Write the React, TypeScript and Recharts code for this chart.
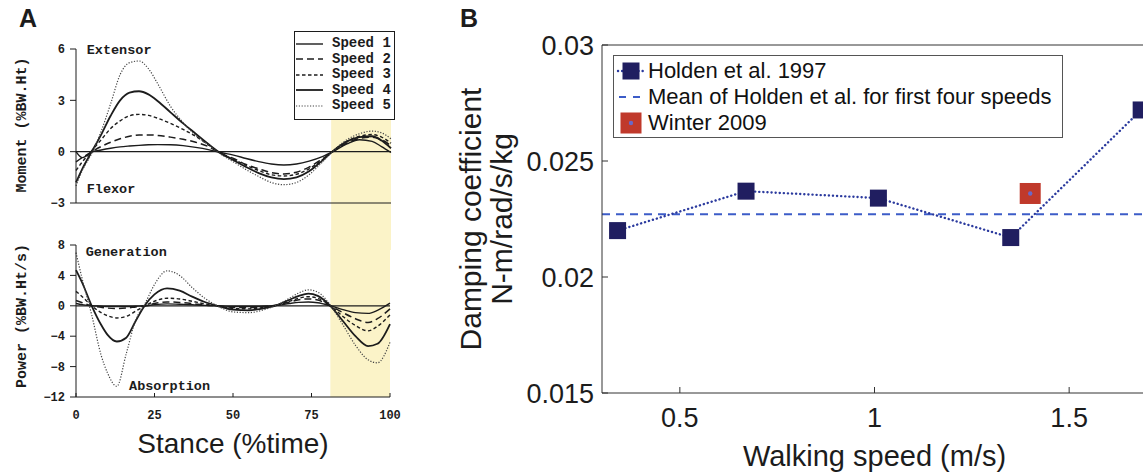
import {
  LineChart, ComposedChart, Line, Scatter, XAxis, YAxis,
  ReferenceLine, ReferenceArea, ReferenceDot, Legend,
} from "recharts";

// ---- panel A: moment and power over stance ----
const stance = [0, 2, 5, 8, 11, 14, 17, 20, 23, 26, 30, 34, 38, 42, 46, 50, 54, 58, 62, 66, 70, 74, 78, 82, 86, 90, 94, 97, 100];
const momentSpeed1 = [0, -0.35, -0.02, 0.1, 0.2, 0.28, 0.33, 0.37, 0.4, 0.41, 0.4, 0.35, 0.25, 0.12, -0.05, -0.2, -0.4, -0.58, -0.72, -0.78, -0.72, -0.55, -0.3, 0.05, 0.45, 0.7, 0.6, 0.3, -0.05];
const momentSpeed2 = [-0.6, -0.35, 0, 0.3, 0.55, 0.75, 0.9, 0.97, 0.98, 0.95, 0.85, 0.72, 0.55, 0.3, -0.1, -0.4, -0.75, -1.0, -1.22, -1.3, -1.2, -0.9, -0.45, 0.05, 0.5, 0.78, 0.85, 0.7, 0.35];
const momentSpeed3 = [-1.1, -0.6, 0.05, 0.7, 1.35, 1.8, 2.1, 2.18, 2.12, 1.95, 1.65, 1.3, 0.9, 0.4, -0.1, -0.45, -0.8, -1.1, -1.35, -1.42, -1.32, -1.0, -0.5, 0.1, 0.6, 0.9, 1.0, 0.85, 0.5];
const momentSpeed4 = [-1.8, -1.0, 0, 1.0, 2.1, 3.0, 3.45, 3.53, 3.35, 2.95, 2.3, 1.65, 1.05, 0.45, -0.1, -0.5, -0.9, -1.25, -1.5, -1.6, -1.5, -1.15, -0.55, 0.1, 0.6, 0.85, 0.9, 0.65, 0.2];
const momentSpeed5 = [-2.0, -1.1, -0.1, 1.2, 2.8, 4.5, 5.2, 5.3, 4.85, 3.95, 2.65, 1.7, 0.95, 0.4, -0.15, -0.6, -1.05, -1.45, -1.8, -1.93, -1.8, -1.35, -0.65, 0.1, 0.7, 1.05, 1.2, 1.1, 0.75];

const powerStance = [0, 2, 5, 8, 10, 13, 16, 19, 22, 25, 29, 33, 37, 41, 45, 50, 55, 60, 64, 68, 71, 74, 77, 81, 85, 89, 93, 96, 100];
const powerSpeed1 = [0.3, 0.15, 0, -0.05, -0.1, -0.1, -0.1, -0.05, 0, 0.15, 0.25, 0.2, 0.15, 0.05, 0, -0.1, -0.1, -0.05, 0.05, 0.3, 0.45, 0.5, 0.4, 0, -0.5, -0.9, -1.0, -0.6, 0.35];
const powerSpeed2 = [0.7, 0.4, 0, -0.2, -0.3, -0.35, -0.3, -0.15, 0, 0.3, 0.5, 0.45, 0.3, 0.1, 0, -0.2, -0.25, -0.1, 0.1, 0.5, 0.8, 0.9, 0.75, 0, -0.9, -1.7, -2.2, -1.7, -0.4];
const powerSpeed3 = [1.9, 1.2, 0, -0.9, -1.3, -1.6, -1.4, -0.7, 0, 0.6, 1.0, 0.9, 0.6, 0.25, 0, -0.35, -0.4, -0.2, 0.1, 0.6, 1.0, 1.2, 1.0, 0, -1.4, -2.6, -3.3, -2.7, -1.2];
const powerSpeed4 = [4.7, 3.0, 0, -2.5, -3.8, -4.7, -4.2, -2.0, 0.1, 1.5, 2.3, 2.0, 1.2, 0.5, 0, -0.5, -0.6, -0.3, 0.1, 0.8, 1.3, 1.6, 1.3, 0, -2.0, -4.0, -5.3, -5.0, -2.4];
const powerSpeed5 = [7.0, 3.5, -1.2, -6.5, -8.8, -10.6, -6.3, -1.9, 0.3, 2.8, 4.6, 4.0, 2.4, 1.0, 0, -0.8, -0.9, -0.5, 0.1, 1.0, 1.7, 2.1, 1.8, 0.1, -2.5, -5.2, -7.1, -7.5, -4.8];

const speedNames = ["Speed 1", "Speed 2", "Speed 3", "Speed 4", "Speed 5"];
const stanceTicks = [0, 25, 50, 75, 100];
const momentTicks = [-3, 0, 3, 6];
const powerTicks = [-12, -8, -4, 0, 4, 8];

// ---- panel B: damping vs walking speed ----
const holdenSpeed = [0.34, 0.67, 1.01, 1.35, 1.685];
const holdenDamping = [0.022, 0.0237, 0.0234, 0.0217, 0.0272];
const winterSpeed = [1.4];
const winterDamping = [0.0236];
const walkTicks = [0.5, 1, 1.5];
const dampingTicks = [0.015, 0.02, 0.025, 0.03];

const momentRows = stance.map((s, i) => ({
  s, k1: momentSpeed1[i], k2: momentSpeed2[i], k3: momentSpeed3[i], k4: momentSpeed4[i], k5: momentSpeed5[i],
}));
const powerRows = powerStance.map((s, i) => ({
  s, k1: powerSpeed1[i], k2: powerSpeed2[i], k3: powerSpeed3[i], k4: powerSpeed4[i], k5: powerSpeed5[i],
}));
const holdenRows = holdenSpeed.map((v, i) => ({ v, d: holdenDamping[i] }));
const winterRows = winterSpeed.map((v, i) => ({ v, d: winterDamping[i] }));
const meanDamping = holdenDamping.slice(0, 4).reduce((a, b) => a + b, 0) / 4;

const ink = "#1c1c1c";
const shade = "#fbf3c8";
const mono = "'Liberation Mono', 'DejaVu Sans Mono', monospace";
const sans = "'Liberation Sans', Arial, Helvetica, sans-serif";
const navy = "#201e60";
const lineBlue = "#2b3a9e";
const meanBlue = "#3c5cc8";
const brick = "#c0392b";

const speedStyle = [
  { dash: undefined, w: 1.4, c: ink },
  { dash: "7 4", w: 1.5, c: ink },
  { dash: "3.5 2.5", w: 1.4, c: ink },
  { dash: undefined, w: 1.8, c: ink },
  { dash: "1.2 1.6", w: 1.2, c: "#444" },
];

const minusFmt = (v: number) => (v < 0 ? "\u2212" + Math.abs(v) : String(v));
const monoTick = { fontSize: 12, fontFamily: mono, fontWeight: 700, fill: ink };

const sideTitle = (text: string, dx: number, dy: number, font: string, size: number, weight: number) =>
  (props: any) => {
    const vb = props.viewBox || { x: 0, y: 0, width: 0, height: 0 };
    const cx = vb.x + dx;
    const cy = vb.y + vb.height / 2 + dy;
    return (
      <text x={cx} y={cy} transform={`rotate(-90, ${cx}, ${cy})`} textAnchor="middle"
        dominantBaseline="central" fontFamily={font} fontSize={size} fontWeight={weight} fill={ink}>
        {text}
      </text>
    );
  };

const bottomTitle = (text: string, dy: number, size: number) => (props: any) => {
  const vb = props.viewBox || { x: 0, y: 0, width: 0, height: 0 };
  return (
    <text x={vb.x + vb.width / 2} y={vb.y + dy} textAnchor="middle" dominantBaseline="central"
      fontFamily={sans} fontSize={size} fill={ink}>
      {text}
    </text>
  );
};

function SpeedLegend() {
  return (
    <div style={{ border: `1.5px solid ${ink}`, background: "#fff", padding: "4px 0 5px 1px", boxSizing: "border-box", width: 101 }}>
      {speedNames.map((n, i) => (
        <div key={n} style={{ display: "flex", alignItems: "center", height: 15.5 }}>
          <svg width={27} height={6}>
            <line x1={0} x2={27} y1={3} y2={3} stroke={speedStyle[i].c}
              strokeWidth={speedStyle[i].w} strokeDasharray={speedStyle[i].dash} />
          </svg>
          <span style={{ marginLeft: 9, fontFamily: mono, fontWeight: 700, fontSize: 14, color: ink, lineHeight: "15px" }}>{n}</span>
        </div>
      ))}
    </div>
  );
}

function DampingLegend() {
  const rows = [
    {
      name: "Holden et al. 1997",
      icon: (
        <svg width={34} height={22}>
          <line x1={4} x2={32} y1={11} y2={11} stroke={lineBlue} strokeWidth={2.4} strokeDasharray="0.1 4" strokeLinecap="round" />
          <rect x={8.5} y={2.5} width={17} height={17} fill={navy} />
        </svg>
      ),
    },
    {
      name: "Mean of Holden et al. for first four speeds",
      icon: (
        <svg width={34} height={22}>
          <line x1={5} x2={29} y1={11} y2={11} stroke={meanBlue} strokeWidth={2} strokeDasharray="7 7" />
        </svg>
      ),
    },
    {
      name: "Winter 2009",
      icon: (
        <svg width={34} height={22}>
          <rect x={6.5} y={0.5} width={21} height={21} fill={brick} />
          <circle cx={17} cy={11} r={2.2} fill="#6a68c8" />
        </svg>
      ),
    },
  ];
  return (
    <div style={{ border: "1.2px solid #555", background: "#fff", width: 450, height: 83, boxSizing: "border-box", paddingTop: 2 }}>
      {rows.map((r) => (
        <div key={r.name} style={{ display: "flex", alignItems: "center", height: 26 }}>
          {r.icon}
          <span style={{ fontFamily: sans, fontSize: 22, color: "#111", lineHeight: "26px" }}>{r.name}</span>
        </div>
      ))}
    </div>
  );
}

const holdenSquare = (p: any) => (
  <rect key={`h${p.index}`} x={p.cx - 8.5} y={p.cy - 8.5} width={17} height={17} fill={navy} />
);
const winterSquare = (p: any) => (
  <g>
    <rect x={p.cx - 10.5} y={p.cy - 10.5} width={21} height={21} fill={brick} />
    <circle cx={p.cx} cy={p.cy} r={2.2} fill="#6a68c8" />
  </g>
);

function speedLines() {
  return speedNames.map((n, i) => (
    <Line key={n} type="monotone" dataKey={`k${i + 1}`} name={n} stroke={speedStyle[i].c}
      strokeWidth={speedStyle[i].w} strokeDasharray={speedStyle[i].dash}
      dot={false} activeDot={false} isAnimationActive={false} />
  ));
}

const noteLabel = (value: string) => ({
  value, position: "right" as const, offset: 0,
  fontFamily: mono, fontWeight: 700, fontSize: 13.5, fill: ink,
});

export default function App() {
  return (
    <div style={{ position: "absolute", left: 0, top: 0, width: 1143, height: 473, overflow: "hidden", background: "#fff" }}>
      <div style={{ position: "absolute", left: 19, top: 4, fontFamily: sans, fontWeight: 700, fontSize: 25, color: ink }}>A</div>
      <div style={{ position: "absolute", left: 460, top: 4, fontFamily: sans, fontWeight: 700, fontSize: 25, color: ink }}>B</div>

      {/* moment */}
      <div style={{ position: "absolute", left: 0, top: 0 }}>
        <LineChart width={420} height={250} data={momentRows} margin={{ top: 49, right: 29, bottom: 27, left: 46 }}>
          <ReferenceArea x1={81} x2={100} y1={-5.8} y2={2} fill={shade} fillOpacity={1} stroke="none" ifOverflow="visible" />
          <XAxis dataKey="s" type="number" domain={[0, 100]} ticks={stanceTicks} tick={false}
            tickSize={-5} height={20} stroke={ink} />
          <YAxis type="number" domain={[-3, 6]} ticks={momentTicks} tickFormatter={minusFmt}
            tick={monoTick} tickSize={6} tickMargin={5} width={30} stroke={ink}
            label={sideTitle("Moment (%BW.Ht)", -24, -1, mono, 15, 700)} />
          <ReferenceLine y={0} stroke={ink} strokeWidth={1.2} />
          {speedLines()}
          <ReferenceDot x={3.4} y={6} r={0} fill="none" stroke="none" ifOverflow="visible" label={noteLabel("Extensor")} />
          <ReferenceDot x={3.4} y={-2.15} r={0} fill="none" stroke="none" ifOverflow="visible" label={noteLabel("Flexor")} />
          <Legend layout="horizontal" verticalAlign="middle" align="center" content={() => <SpeedLegend />}
            wrapperStyle={{ left: 294, top: 31, width: 101 }} />
        </LineChart>
      </div>

      {/* power */}
      <div style={{ position: "absolute", left: 0, top: 230 }}>
        <LineChart width={420} height={243} data={powerRows} margin={{ top: 15, right: 30, bottom: 16, left: 46 }}>
          <ReferenceArea x1={81} x2={100} y1={-12} y2={10} fill={shade} fillOpacity={1} stroke="none" ifOverflow="visible" />
          <XAxis dataKey="s" type="number" domain={[0, 100]} ticks={stanceTicks} tick={monoTick}
            tickSize={-4} tickMargin={17} height={60} stroke={ink}
            label={bottomTitle("Stance (%time)", 46, 28)} />
          <YAxis type="number" domain={[-12, 8]} ticks={powerTicks} tickFormatter={minusFmt}
            tick={monoTick} tickSize={6} tickMargin={5} width={30} stroke={ink}
            label={sideTitle("Power (%BW.Ht/s)", -24, -5, mono, 15, 700)} />
          <ReferenceLine y={0} stroke={ink} strokeWidth={1.2} />
          {speedLines()}
          <ReferenceDot x={3.1} y={7.15} r={0} fill="none" stroke="none" ifOverflow="visible" label={noteLabel("Generation")} />
          <ReferenceDot x={16.9} y={-10.5} r={0} fill="none" stroke="none" ifOverflow="visible" label={noteLabel("Absorption")} />
        </LineChart>
      </div>

      {/* damping */}
      <div style={{ position: "absolute", left: 440, top: 0 }}>
        <ComposedChart width={720} height={473} margin={{ top: 44, right: 13, bottom: 10, left: 72 }}>
          <XAxis xAxisId="top" orientation="top" type="number" dataKey="v" domain={[0.3, 1.7]}
            ticks={walkTicks} tick={false} tickSize={-6} height={1} stroke="#333" allowDataOverflow />
          <XAxis type="number" dataKey="v" domain={[0.3, 1.7]} ticks={walkTicks} tickFormatter={(v: number) => String(v)}
            tick={{ fontSize: 27, fontFamily: sans, fill: ink }} tickSize={-6} tickMargin={21} height={70}
            stroke="#333" allowDataOverflow label={bottomTitle("Walking speed (m/s)", 63, 29)} />
          <YAxis type="number" dataKey="d" domain={[0.015, 0.03]} ticks={dampingTicks}
            tickFormatter={(v: number) => String(v)} tick={{ fontSize: 27, fontFamily: sans, fill: ink }}
            tickSize={-6} tickMargin={14} width={90} stroke="#333" allowDataOverflow
            label={(p: any) => (
              <g>
                {sideTitle("Damping coefficient", -42, 0, sans, 30, 400)(p)}
                {sideTitle("N-m/rad/s/kg", -11, 0, sans, 30, 400)(p)}
              </g>
            )} />
          <ReferenceLine y={meanDamping} stroke={meanBlue} strokeWidth={2} strokeDasharray="8 6" />
          <Line data={holdenRows} dataKey="d" type="linear" stroke={lineBlue} strokeWidth={2.4}
            strokeDasharray="0.1 4" strokeLinecap="round" dot={holdenSquare} activeDot={false}
            isAnimationActive={false} />
          <Scatter data={winterRows} dataKey="d" shape={winterSquare} isAnimationActive={false} />
          <Legend layout="horizontal" verticalAlign="middle" align="center" content={() => <DampingLegend />}
            wrapperStyle={{ left: 173, top: 55, width: 450 }} />
        </ComposedChart>
      </div>
    </div>
  );
}
